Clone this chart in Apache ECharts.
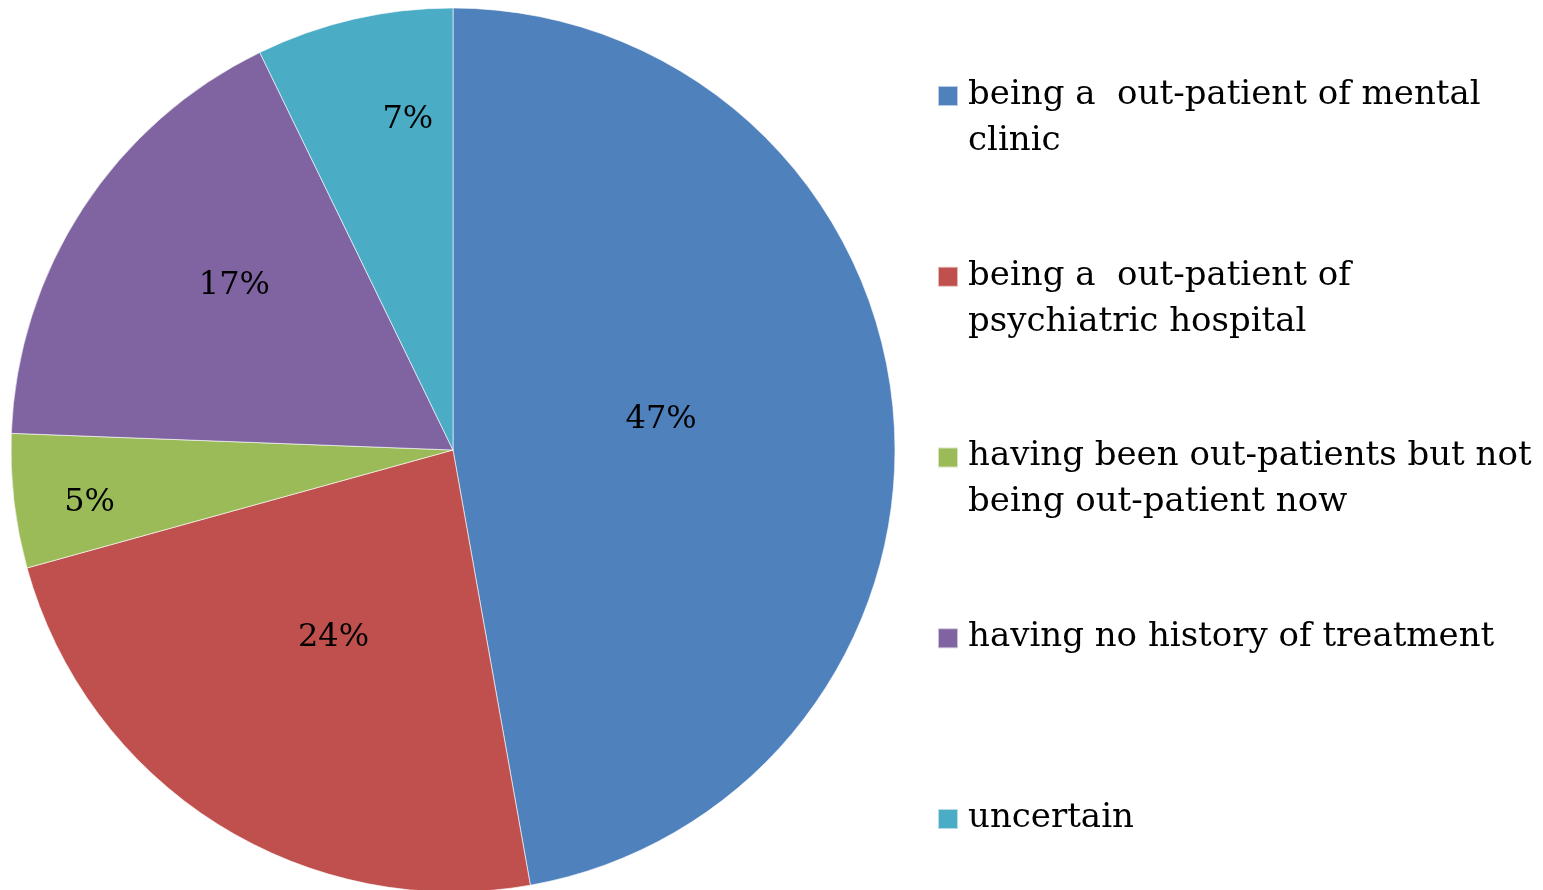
<!DOCTYPE html>
<html>
<head>
<meta charset="utf-8">
<script src="https://cdn.jsdelivr.net/npm/echarts@6/dist/echarts.min.js"></script>
<style>
  html, body { margin: 0; padding: 0; background: #fff; }
  #chart { width: 1543px; height: 890px; }
</style>
</head>
<body>
<div id="chart"></div>
<script>
'use strict';

// categories, in clockwise order from 12 o'clock
var categories = [
    'being a  out-patient of mental clinic',
    'being a  out-patient of psychiatric hospital',
    'having been out-patients but not being out-patient now',
    'having no history of treatment',
    'uncertain'
];
// legend text as it is wrapped in the picture
var legendLines = [
    'being a  out-patient of mental\nclinic',
    'being a  out-patient of\npsychiatric hospital',
    'having been out-patients but not\nbeing out-patient now',
    'having no history of treatment\n',
    'uncertain\n'
];
var shares = [47.2, 23.5, 4.9, 17.2, 7.2];
var colors = ['#4F81BD', '#C0504D', '#9BBB59', '#8064A2', '#4BACC6'];
// nudges for the percent labels (excel does not put them at r/2)
var labelOffsets = [[-15, -11], [0, -2], [-141, 27], [-31, -42], [5, -112]];

var fontFam = '"DejaVu Serif", "Liberation Serif", serif';
// square sits at the top of a 25x92 box so it lines up with the first text line
var legendIcon = 'path://M0,0L0.01,0M0,14h20v20h-20zM25,92L25.01,92';

var myChart = echarts.init(document.getElementById('chart'));

var pieData = categories.map(function (c, i) {
    return {
        name: c,
        value: shares[i],
        itemStyle: { color: colors[i] },
        label: { offset: labelOffsets[i] }
    };
});

var option = {
    animation: false,
    legend: {
        orient: 'vertical',
        left: 937,
        top: 71,
        height: 819,
        padding: 0,
        itemWidth: 25,
        itemHeight: 92,
        itemGap: 86.8,
        icon: legendIcon,
        selectedMode: false,
        data: categories,
        formatter: function (name) {
            return legendLines[categories.indexOf(name)];
        },
        textStyle: {
            fontFamily: fontFam,
            fontSize: 34,
            lineHeight: 46,
            color: '#000'
        }
    },
    series: [
        {
            type: 'pie',
            center: [453, 450],
            radius: 442,
            startAngle: 90,
            clockwise: true,
            data: pieData,
            itemStyle: {
                borderColor: 'rgba(255,255,255,0.6)',
                borderWidth: 1
            },
            label: {
                show: true,
                position: 'inside',
                formatter: function (p) {
                    return Math.round(p.value) + '%';
                },
                fontFamily: fontFam,
                fontSize: 32,
                color: '#000'
            },
            labelLine: { show: false },
            emphasis: { disabled: true }
        }
    ]
};

myChart.setOption(option);
</script>
</body>
</html>
